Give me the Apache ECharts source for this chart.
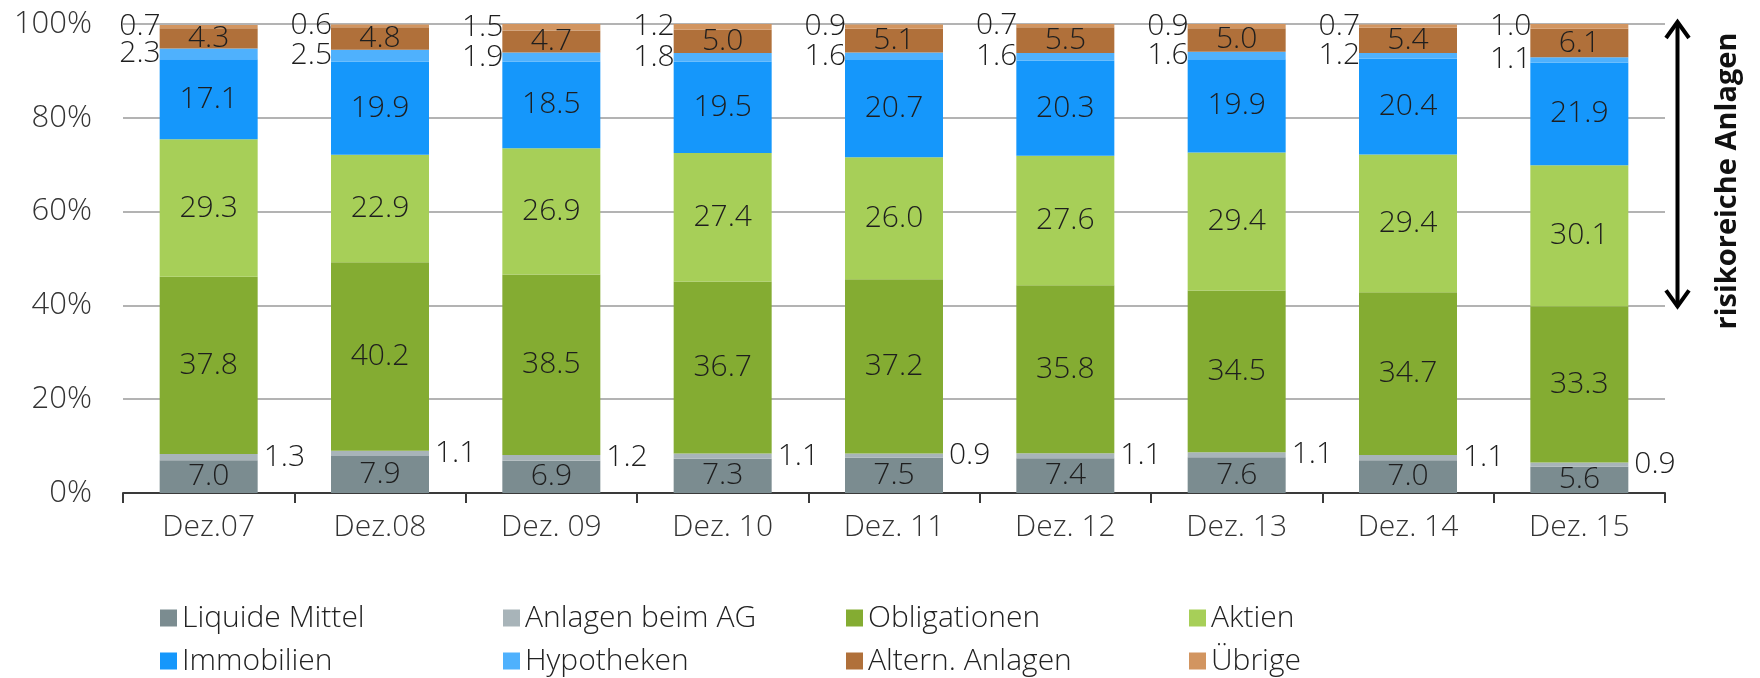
<!DOCTYPE html>
<html>
<head>
<meta charset="utf-8">
<script src="https://cdn.jsdelivr.net/npm/echarts@6/dist/echarts.min.js"></script>
<style>
html,body{margin:0;padding:0;background:#ffffff;}
#c{width:1760px;height:678px;}
</style>
</head>
<body>
<div id="c"></div>
<script>
const categories = ['Dez.07','Dez.08','Dez. 09','Dez. 10','Dez. 11','Dez. 12','Dez. 13','Dez. 14','Dez. 15'];
const liquideMittel = [7.0, 7.9, 6.9, 7.3, 7.5, 7.4, 7.6, 7.0, 5.6];
const anlagenBeimAG = [1.3, 1.1, 1.2, 1.1, 0.9, 1.1, 1.1, 1.1, 0.9];
const obligationen  = [37.8, 40.2, 38.5, 36.7, 37.2, 35.8, 34.5, 34.7, 33.3];
const aktien        = [29.3, 22.9, 26.9, 27.4, 26.0, 27.6, 29.4, 29.4, 30.1];
const immobilien    = [17.1, 19.9, 18.5, 19.5, 20.7, 20.3, 19.9, 20.4, 21.9];
const hypotheken    = [2.3, 2.5, 1.9, 1.8, 1.6, 1.6, 1.6, 1.2, 1.1];
const alternAnlagen = [4.3, 4.8, 4.7, 5.0, 5.1, 5.5, 5.0, 5.4, 6.1];
const uebrige       = [0.7, 0.6, 1.5, 1.2, 0.9, 0.7, 0.9, 0.7, 1.0];
const yTicks = [0, 20, 40, 60, 80, 100];
const seriesNames = ['Liquide Mittel','Anlagen beim AG','Obligationen','Aktien','Immobilien','Hypotheken','Altern. Anlagen','Übrige'];
const annotationText = 'risikoreiche Anlagen';

const seriesData = [liquideMittel, anlagenBeimAG, obligationen, aktien, immobilien, hypotheken, alternAnlagen, uebrige];
const colors = ['#7b8c90','#a8b4b9','#84ac32','#a7cf58','#1597fb','#4fb1fd','#b0703a','#d29560'];
const labelPos = ['inside','right','inside','inside','inside','left','inside','left'];
const FONT = '"Open Sans", "Noto Sans", sans-serif';
const W = 350;

const chart = echarts.init(document.getElementById('c'), null, {renderer: 'canvas'});

const series = seriesNames.map((name, i) => ({
  name: name,
  type: 'bar',
  stack: 'total',
  barWidth: 98,
  data: seriesData[i],
  itemStyle: { color: colors[i] },
  emphasis: { disabled: true },
  label: {
    show: true,
    position: labelPos[i],
    distance: labelPos[i] === 'right' ? 6 : (labelPos[i] === 'left' ? -1 : 5),
    formatter: p => p.value.toFixed(1),
    fontFamily: FONT,
    fontWeight: W,
    fontSize: 30,
    color: '#1e1e1e'
  }
}));

const legendCommon = {
  left: 155,
  icon: 'rect',
  itemWidth: 17,
  itemHeight: 17,
  itemGap: 21,
  selectedMode: false,
  textStyle: { fontFamily: FONT, fontWeight: W, fontSize: 30, color: '#222', width: 300, lineHeight: 34 }
};

chart.setOption({
  backgroundColor: '#ffffff',
  animation: false,
  color: colors,
  grid: { left: 123, right: 95, top: 24, bottom: 185, containLabel: false },
  legend: [
    Object.assign({}, legendCommon, { top: 596, data: seriesNames.slice(0, 4) }),
    Object.assign({}, legendCommon, { top: 639, data: seriesNames.slice(4, 8) })
  ],
  xAxis: {
    type: 'category',
    data: categories,
    axisLine: { show: true, lineStyle: { color: '#3a3a3a', width: 2 } },
    axisTick: { show: true, length: 10, lineStyle: { color: '#3a3a3a', width: 2 } },
    axisLabel: { fontFamily: FONT, fontWeight: W, fontSize: 30, color: '#333', margin: 19 }
  },
  yAxis: {
    type: 'value',
    min: yTicks[0],
    max: yTicks[yTicks.length - 1],
    interval: yTicks[1] - yTicks[0],
    axisLine: { show: false },
    axisTick: { show: false },
    axisLabel: { fontFamily: FONT, fontWeight: W, fontSize: 31, color: '#333', margin: 31, formatter: '{value}%' },
    splitLine: { show: true, lineStyle: { color: '#9a9a9a', width: 1.5 } }
  },
  series: series
});

const yTop = chart.convertToPixel({yAxisIndex: 0}, 100);
const yBot = chart.convertToPixel({yAxisIndex: 0}, 40);
const ax = 1677.5;
chart.setOption({
  graphic: [
    { type: 'line', shape: { x1: ax, y1: yTop - 2, x2: ax, y2: yBot + 1 }, style: { stroke: '#000', lineWidth: 4 } },
    { type: 'polyline', shape: { points: [[ax - 11.5, yTop + 14], [ax, yTop - 2], [ax + 11.5, yTop + 14]] }, style: { stroke: '#000', lineWidth: 4, fill: null, lineJoin: 'miter' } },
    { type: 'polyline', shape: { points: [[ax - 11.5, yBot - 15], [ax, yBot + 1], [ax + 11.5, yBot - 15]] }, style: { stroke: '#000', lineWidth: 4, fill: null, lineJoin: 'miter' } },
    { type: 'text', x: 1728, y: 181, rotation: Math.PI / 2,
      style: { text: annotationText, fontFamily: FONT, fontSize: 29, fontWeight: 'bold', fill: '#111', align: 'center', verticalAlign: 'middle' } }
  ]
});
</script>
</body>
</html>
